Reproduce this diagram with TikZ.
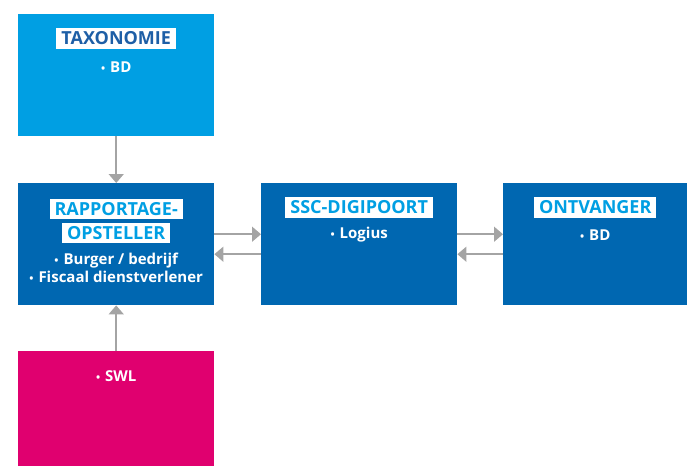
\documentclass[tikz,border=0pt]{standalone}
\usepackage{fontspec}
\setmainfont{Open Sans}
\usetikzlibrary{arrows.meta}
\definecolor{lichtblauw}{HTML}{009FE3}
\definecolor{donkerblauw}{HTML}{0067B1}
\definecolor{kopblauw}{HTML}{1E5FA6}
\definecolor{roze}{HTML}{E0006F}
\definecolor{pijlgrijs}{HTML}{A4A4A4}
\newcommand\stip{{\fontsize{11}{11}\selectfont\textbullet}\hspace{5pt}}
\begin{document}
\begin{tikzpicture}[x=1pt,y=1pt,
  blok/.style={anchor=north west,minimum width=196pt,minimum height=122pt,inner sep=0pt},
  kop/.style={fill=white,font=\fontsize{18}{18}\selectfont\bfseries,text height=12.5pt,text depth=0pt,inner xsep=5pt,inner ysep=4pt},
  punt/.style={text=white,font=\fontsize{15}{18.5}\selectfont\bfseries,align=center},
  pijl/.style={draw=pijlgrijs,line width=1.6pt,-{Triangle[width=15pt,length=9pt]}}]
\useasboundingbox (0,0) rectangle (687,-466);
% blokken
\node[blok,fill=lichtblauw] (tax) at (18,-14) {};
\node[blok,fill=donkerblauw] (rap) at (18,-183) {};
\node[blok,fill=donkerblauw] (ssc) at (261,-183) {};
\node[blok,fill=donkerblauw,minimum width=184pt] (ont) at (503,-183) {};
\node[blok,fill=roze,minimum height=115pt] (swl) at (18,-351) {};
% koppen
\node[kop,text=kopblauw] (taxkop) at ([yshift=-24.5pt]tax.north) {TAXONOMIE};
\node[kop,text=lichtblauw] (rapkop1) at ([yshift=-26pt]rap.north) {RAPPORTAGE-};
\node[kop,text=lichtblauw] (rapkop2) at ([yshift=-50pt]rap.north) {OPSTELLER};
\node[kop,text=lichtblauw] (ssckop) at ([yshift=-24.5pt]ssc.north) {SSC-DIGIPOORT};
\node[kop,text=lichtblauw] (ontkop) at ([yshift=-24.5pt]ont.north) {ONTVANGER};
% opsommingen
\node[punt] (taxpunt) at ([yshift=-53pt]tax.north) {\stip BD};
\node[punt] (rappunt) at ([yshift=-85pt]rap.north) {\stip Burger / bedrijf\\ \stip Fiscaal dienstverlener};
\node[punt] (sscpunt) at ([yshift=-52pt]ssc.north) {\stip Logius};
\node[punt] (ontpunt) at ([yshift=-52pt]ont.north) {\stip BD};
\node[punt] (swlpunt) at ([yshift=-25pt]swl.north) {\stip SWL};
% pijlen
\path[pijl] (tax.south) -- (rap.north);
\path[pijl] (swl.north) -- (rap.south);
\path[pijl] ([yshift=10pt]rap.east) -- ([yshift=10pt]ssc.west);
\path[pijl] ([yshift=-10pt]ssc.west) -- ([yshift=-10pt]rap.east);
\path[pijl] ([yshift=10pt]ssc.east) -- ([yshift=10pt]ont.west);
\path[pijl] ([yshift=-10pt]ont.west) -- ([yshift=-10pt]ssc.east);
\end{tikzpicture}
\end{document}
